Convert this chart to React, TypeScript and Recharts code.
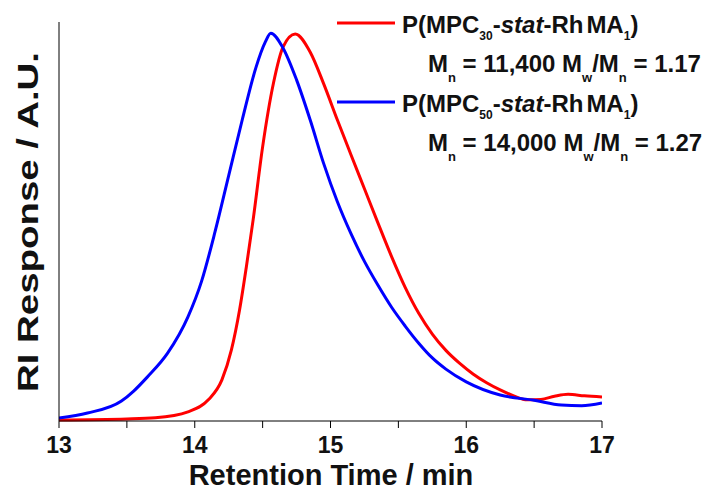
import React from 'react';
import { LineChart, Line, XAxis, YAxis, Legend, Label } from 'recharts';

// retention time (min) / RI response (a.u., 0-100)
const redTime = [13.0, 13.5, 13.71, 13.95, 14.1, 14.2, 14.27, 14.33, 14.38, 14.43, 14.5, 14.58, 14.65, 14.74, 14.85, 14.95, 15.05, 15.15, 15.25, 15.35, 15.45, 15.55, 15.65, 15.75, 15.85, 15.95, 16.05, 16.15, 16.25, 16.35, 16.45, 16.55, 16.65, 16.75, 16.87, 17.0];
const redResp = [0.25, 0.5, 0.8, 2.3, 5.3, 10.3, 17.8, 27.8, 38.6, 50.4, 68.7, 84.7, 93.7, 97.0, 92.5, 84.5, 75.5, 66.8, 58.2, 49.6, 41.2, 33.5, 27.0, 21.8, 17.7, 14.5, 11.8, 9.6, 7.8, 6.3, 5.3, 5.4, 6.2, 6.7, 6.3, 6.0];

const blueTime = [13.0, 13.21, 13.46, 13.55, 13.65, 13.8, 13.95, 14.05, 14.15, 14.25, 14.35, 14.45, 14.52, 14.56, 14.65, 14.75, 14.85, 14.95, 15.05, 15.15, 15.25, 15.35, 15.45, 15.55, 15.65, 15.75, 15.85, 16.0, 16.25, 16.5, 16.7, 16.85, 17.0];
const blueResp = [0.75, 2.0, 5.0, 7.5, 11.0, 17.0, 26.1, 35.0, 47.5, 61.5, 75.5, 88.5, 95.0, 97.2, 93.5, 85.5, 75.5, 64.5, 55.0, 47.0, 40.0, 34.0, 28.5, 23.8, 19.5, 15.8, 13.0, 9.8, 6.5, 5.2, 4.0, 3.8, 4.5];

const xTicks = [13, 13.5, 14, 14.5, 15, 15.5, 16, 16.5, 17];

const seriesDp = ['30', '50'];
const seriesMn = ['11,400', '14,000'];
const seriesPdi = ['1.17', '1.27'];
const seriesColor = ['#ff0000', '#0000ff'];

const redData = redTime.map((t, i) => ({ t, v: redResp[i] }));
const blueData = blueTime.map((t, i) => ({ t, v: blueResp[i] }));

const FONT = '"Liberation Sans", Arial, sans-serif';

const renderTimeTick = (props: any) => {
  const { x, y, payload } = props;
  if (!Number.isInteger(payload.value)) return <g />;
  return (
    <text x={x} y={y + 23} textAnchor="middle" fontSize={23} fontWeight="bold" fontFamily={FONT} fill="#111">
      {payload.value}
    </text>
  );
};

const LegendBox = () => (
  <svg width={710} height={170} style={{ display: 'block' }}>
    {seriesDp.map((dp, i) => {
      const y0 = 33 + i * 79;
      return (
        <g key={dp} fontFamily={FONT} fontWeight="bold" fill="#111">
          <line x1={337} x2={395} y1={y0 - 10} y2={y0 - 10} stroke={seriesColor[i]} strokeWidth={3} />
          <text x={402} y={y0} fontSize={24}>
            P(MPC
            <tspan fontSize={12} dy={7}>{dp}</tspan>
            <tspan dy={-7}>-</tspan>
            <tspan fontStyle="italic">stat</tspan>
            -Rh
            <tspan dx={3}>MA</tspan>
            <tspan fontSize={12} dy={7}>1</tspan>
            <tspan dy={-7}>)</tspan>
          </text>
          <text x={428} y={y0 + 39} fontSize={24}>
            M
            <tspan fontSize={13} dy={10}>n</tspan>
            <tspan dy={-10}>{` = ${seriesMn[i]} M`}</tspan>
            <tspan fontSize={13} dy={10}>w</tspan>
            <tspan dy={-10}>/M</tspan>
            <tspan fontSize={13} dy={10}>n</tspan>
            <tspan dy={-10}>{` = ${seriesPdi[i]}`}</tspan>
          </text>
        </g>
      );
    })}
  </svg>
);

export default function App() {
  return (
    <div style={{ position: 'absolute', left: 0, top: 0, background: '#fff' }}>
      <LineChart width={710} height={492} margin={{ top: 22, right: 108, left: 0, bottom: 0 }}>
        <XAxis
          type="number"
          dataKey="t"
          domain={[13, 17]}
          ticks={xTicks}
          allowDataOverflow
          height={71}
          tickSize={7}
          stroke="#000"
          tick={renderTimeTick}
        >
          <Label
            content={() => (
              <text x={331} y={485} textAnchor="middle" fontSize={29} fontWeight="bold" fontFamily={FONT} fill="#111">
                Retention Time / min
              </text>
            )}
          />
        </XAxis>
        <YAxis type="number" domain={[0, 100]} width={59} tick={false} tickLine={false} stroke="#000">
          <Label
            content={() => (
              <text
                x={27}
                y={222}
                transform="rotate(-90 27 222)"
                textAnchor="middle"
                dominantBaseline="central"
                fontSize={30}
                fontWeight="bold"
                fontFamily={FONT}
                fill="#111"
                textLength={340}
                lengthAdjust="spacingAndGlyphs"
              >
                RI Response / A.U.
              </text>
            )}
          />
        </YAxis>
        <Legend
          layout="vertical"
          align="center"
          verticalAlign="middle"
          wrapperStyle={{ top: 0, left: 0, width: 710, height: 170 }}
          content={() => <LegendBox />}
        />
        <Line data={redData} dataKey="v" name="P(MPC30-stat-RhMA1)" type="monotone" stroke={seriesColor[0]} strokeWidth={3} dot={false} isAnimationActive={false} />
        <Line data={blueData} dataKey="v" name="P(MPC50-stat-RhMA1)" type="monotone" stroke={seriesColor[1]} strokeWidth={3} dot={false} isAnimationActive={false} />
      </LineChart>
    </div>
  );
}
